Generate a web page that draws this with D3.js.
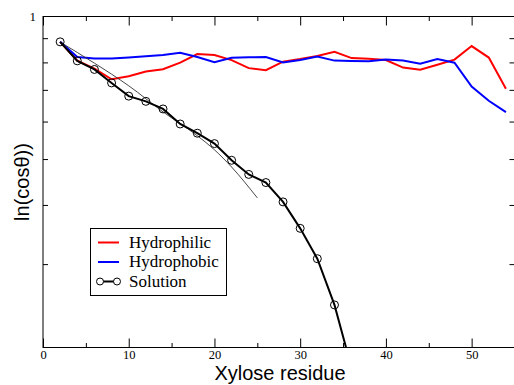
<!DOCTYPE html>
<html>
<head>
<meta charset="utf-8">
<script src="https://cdn.jsdelivr.net/npm/d3@7"></script>
<style>
  html, body { margin: 0; padding: 0; background: #fff; }
  svg { display: block; }
</style>
</head>
<body>
<svg id="chart" width="514" height="385"></svg>
<script>
// Residue index along the chain
const residues = [2, 4, 6, 8, 10, 12, 14, 16, 18, 20, 22, 24, 26, 28, 30, 32, 34, 36, 38, 40, 42, 44, 46, 48, 50, 52, 54];

// cos(theta) correlation per environment
const hydrophilic = [0.884, 0.807, 0.776, 0.737, 0.748, 0.765, 0.774, 0.799, 0.833, 0.829, 0.809, 0.778, 0.770, 0.803,
  0.813, 0.825, 0.842, 0.817, 0.814, 0.809, 0.780, 0.772, 0.791, 0.811, 0.866, 0.819, 0.704];
const hydrophobic = [0.884, 0.821, 0.815, 0.815, 0.819, 0.824, 0.829, 0.838, 0.821, 0.801, 0.818, 0.820, 0.821, 0.800,
  0.809, 0.823, 0.807, 0.805, 0.804, 0.811, 0.807, 0.795, 0.813, 0.799, 0.711, 0.664, 0.628];

const solutionResidues = [2, 4, 6, 8, 10, 12, 14, 16, 18, 20, 22, 24, 26, 28, 30, 32, 34, 36];
const solution = [0.884, 0.806, 0.773, 0.724, 0.679, 0.662, 0.638, 0.593, 0.567, 0.539, 0.497, 0.464, 0.446, 0.406,
  0.357, 0.308, 0.246, 0.181];

// Fitted decay curve for the solution data
const fitResidues = [2, 6, 10, 14, 18, 20, 22, 25];
const fitValues = [0.883, 0.797, 0.714, 0.629, 0.560, 0.523, 0.481, 0.414];

const xTicks = [0, 10, 20, 30, 40, 50];
const xMinorTicks = [5, 15, 25, 35, 45];
const yTickLabels = [1];
const yMinorTicks = [0.3, 0.4, 0.5, 0.6, 0.7, 0.8, 0.9];

const legendItems = ["Hydrophilic", "Hydrophobic", "Solution"];

const svg = d3.select("#chart");
const pLeft = 43, pRight = 514.5, pTop = 16.5, pBottom = 347.5;

const x = d3.scaleLinear().domain([0, 55]).range([pLeft, pRight]);
const y = d3.scaleLog().domain([0.2, 1]).range([pBottom, pTop]);

svg.append("defs").append("clipPath").attr("id", "plotClip")
  .append("rect").attr("x", pLeft).attr("y", pTop)
  .attr("width", pRight - pLeft).attr("height", pBottom - pTop);

const serif = "'Liberation Serif', 'DejaVu Serif', serif";
const sans = "'Liberation Sans', Arial, sans-serif";

// Axes with inward-pointing ticks on all four sides
const xMajor = 9, xMinor = 4.5, yMinorLen = 5;

svg.append("g").attr("transform", `translate(0,${pBottom})`)
  .call(d3.axisBottom(x).tickValues(xTicks).tickSize(-xMajor).tickPadding(2.5).tickFormat(d3.format("d")))
  .call(g => g.select(".domain").remove())
  .call(g => g.selectAll("text").attr("font-family", serif).attr("font-size", 12.5).attr("fill", "#000"));
svg.append("g").attr("transform", `translate(0,${pBottom})`)
  .call(d3.axisBottom(x).tickValues(xMinorTicks).tickSize(-xMinor).tickFormat(""))
  .call(g => g.select(".domain").remove());

svg.append("g").attr("transform", `translate(0,${pTop})`)
  .call(d3.axisTop(x).tickValues(xTicks).tickSize(-xMajor).tickFormat(""))
  .call(g => g.select(".domain").remove());
svg.append("g").attr("transform", `translate(0,${pTop})`)
  .call(d3.axisTop(x).tickValues(xMinorTicks).tickSize(-xMinor).tickFormat(""))
  .call(g => g.select(".domain").remove());

svg.append("g").attr("transform", `translate(${pLeft},0)`)
  .call(d3.axisLeft(y).tickValues(yMinorTicks).tickSize(-yMinorLen).tickFormat(""))
  .call(g => g.select(".domain").remove());
svg.append("g").attr("transform", `translate(${pLeft},0)`)
  .call(d3.axisLeft(y).tickValues(yTickLabels).tickSize(0).tickPadding(7).tickFormat(d3.format("d")))
  .call(g => g.select(".domain").remove())
  .call(g => g.selectAll("text").attr("font-family", serif).attr("font-size", 13).attr("fill", "#000"));
svg.append("g").attr("transform", `translate(${pRight},0)`)
  .call(d3.axisRight(y).tickValues(yMinorTicks).tickSize(-yMinorLen).tickFormat(""))
  .call(g => g.select(".domain").remove());

svg.selectAll(".tick line").attr("stroke", "#000").attr("stroke-width", 1);

// Frame
svg.append("rect").attr("x", pLeft).attr("y", pTop)
  .attr("width", pRight - pLeft).attr("height", pBottom - pTop)
  .attr("fill", "none").attr("stroke", "#000").attr("stroke-width", 1);

// Data
const plot = svg.append("g").attr("clip-path", "url(#plotClip)");
const line = d3.line().x(d => x(d[0])).y(d => y(d[1]));

plot.append("path").datum(d3.zip(residues, hydrophilic))
  .attr("d", line).attr("fill", "none").attr("stroke", "#ff0000").attr("stroke-width", 2);
plot.append("path").datum(d3.zip(residues, hydrophobic))
  .attr("d", line).attr("fill", "none").attr("stroke", "#0000ff").attr("stroke-width", 2);

plot.append("path").datum(d3.zip(fitResidues, fitValues))
  .attr("d", line.curve(d3.curveMonotoneX)).attr("fill", "none").attr("stroke", "#333").attr("stroke-width", 0.9);
line.curve(d3.curveLinear);

const solData = d3.zip(solutionResidues, solution);
plot.append("path").datum(solData)
  .attr("d", line).attr("fill", "none").attr("stroke", "#000").attr("stroke-width", 2);
plot.selectAll("circle.sol").data(solData.filter(d => d[1] >= 0.2)).join("circle")
  .attr("class", "sol").attr("cx", d => x(d[0])).attr("cy", d => y(d[1])).attr("r", 4)
  .attr("fill", "none").attr("stroke", "#000").attr("stroke-width", 1);

// Axis titles
svg.append("text").attr("x", 280).attr("y", 380).attr("text-anchor", "middle")
  .attr("font-family", sans).attr("font-size", 20).text("Xylose residue");
svg.append("text").attr("transform", "translate(29,182) rotate(-90)").attr("text-anchor", "middle")
  .attr("font-family", sans).attr("font-size", 20).text("ln(cosθ))");

// Legend
const lg = svg.append("g");
lg.append("rect").attr("x", 90.5).attr("y", 228.5).attr("width", 136).attr("height", 67)
  .attr("fill", "#fff").attr("stroke", "#000").attr("stroke-width", 1);
const legendColors = ["#ff0000", "#0000ff", "#000"];
legendItems.forEach((name, i) => {
  const yy = 242.5 + i * 19.5;
  lg.append("line").attr("x1", 98).attr("x2", 119).attr("y1", yy).attr("y2", yy)
    .attr("stroke", legendColors[i]).attr("stroke-width", 2);
  if (name === "Solution") {
    [100, 117].forEach(cx => lg.append("circle").attr("cx", cx).attr("cy", yy).attr("r", 3.5)
      .attr("fill", "#fff").attr("stroke", "#000").attr("stroke-width", 1));
  }
  lg.append("text").attr("x", 129).attr("y", yy + 5).attr("font-family", serif).attr("font-size", 17)
    .text(name);
});
</script>
</body>
</html>
